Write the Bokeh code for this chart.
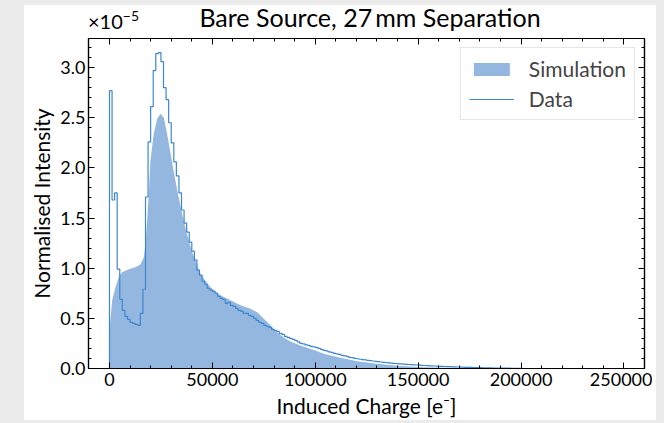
from bokeh.plotting import figure
from bokeh.models import (Range1d, LinearAxis, FixedTicker, PrintfTickFormatter,
                          Legend, LegendItem, Div)
from bokeh.layouts import column
from bokeh.embed import file_html
from bokeh.resources import INLINE
import numpy as np

# ---------------- data (intensity in units of 1e-5) ----------------
BIN_WIDTH = 1250
data_counts = [
    2.77, 1.68, 1.75, 0.99, 0.69, 0.58, 0.52, 0.49, 0.46, 0.45,
    0.44, 0.43, 0.55, 0.79, 1.71, 2.26, 2.61, 2.97, 3.14, 3.15,
    3.06, 2.80, 2.68, 2.45, 2.25, 2.06, 1.92, 1.75, 1.58, 1.45,
    1.36, 1.26, 1.17, 1.08, 0.98, 0.93, 0.87, 0.84, 0.80, 0.78,
    0.77, 0.75, 0.72, 0.70, 0.69, 0.65, 0.66, 0.63, 0.62, 0.60,
    0.58, 0.57, 0.55, 0.55, 0.53, 0.52, 0.50, 0.48, 0.46, 0.45,
    0.43, 0.42, 0.41, 0.39, 0.38, 0.37, 0.35, 0.34, 0.32, 0.31,
    0.30, 0.29, 0.28, 0.265, 0.25, 0.245, 0.235, 0.23, 0.22, 0.215,
    0.21, 0.20, 0.19, 0.18, 0.175, 0.165, 0.16, 0.15, 0.145, 0.14,
    0.13, 0.125, 0.12, 0.11, 0.108, 0.10, 0.097, 0.092, 0.088, 0.085,
    0.082, 0.078, 0.075, 0.072, 0.068, 0.065, 0.062, 0.060, 0.056, 0.054,
    0.052, 0.050, 0.047, 0.046, 0.044, 0.042, 0.040, 0.038, 0.037, 0.035,
    0.033, 0.032, 0.030, 0.029, 0.027, 0.026, 0.025, 0.023, 0.022, 0.021,
    0.020, 0.019, 0.018, 0.017, 0.016, 0.015, 0.014, 0.013, 0.012, 0.011,
    0.011, 0.010, 0.009, 0.009, 0.008, 0.007, 0.007, 0.006, 0.006, 0.005,
    0.005, 0.004, 0.004, 0.003, 0.003, 0.003, 0.002, 0.002, 0.002, 0.001,
]

sim_charge = [0, 300, 1300, 2900, 4500, 6150, 9400, 12600, 15060, 16700,
              17500, 18300, 19100, 19900, 21500, 23200, 24800, 26400, 28000, 29600,
              31250, 32900, 34500, 36100, 37750, 40200, 42600, 44200, 49100, 53900,
              58800, 63650, 68500, 71800, 75000, 78200, 81500, 84700, 87950, 92800,
              99300, 104100, 112200, 120400, 130100, 139800, 152700, 170000, 190000]
sim_intensity = [0, 0.45, 0.68, 0.81, 0.91, 0.96, 0.99, 1.01, 1.04, 1.11,
                 1.24, 1.48, 1.74, 2.07, 2.34, 2.49, 2.54, 2.50, 2.34, 2.15,
                 1.96, 1.78, 1.62, 1.47, 1.33, 1.16, 1.03, 0.94, 0.81, 0.73,
                 0.68, 0.63, 0.595, 0.56, 0.495, 0.43, 0.36, 0.31, 0.27, 0.23,
                 0.185, 0.146, 0.106, 0.073, 0.047, 0.027, 0.013, 0.004, 0.0]

x_ticks = [0, 50000, 100000, 150000, 200000, 250000]
y_ticks = [0.0, 0.5, 1.0, 1.5, 2.0, 2.5, 3.0]

TITLE = "Bare Source, 27&thinsp;mm Separation"
FONT = "Lato"
SIM_COLOR = "#93b7de"
DATA_COLOR = "#3f86d2"

# ---------------- figure ----------------
p = figure(frame_width=556, frame_height=330, output_backend="svg", toolbar_location=None,
           x_range=Range1d(-10200, 260000), y_range=Range1d(0, 3.29),
           min_border_left=64, min_border_right=8, min_border_top=0,
           min_border_bottom=52, x_axis_location=None, y_axis_location=None,
           title=None)
p.grid.visible = False
p.outline_line_color = "black"
p.outline_line_width = 1.2
p.background_fill_color = "white"
p.border_fill_color = "white"

# simulation area
sim_r = p.varea(x=sim_charge, y1=0, y2=sim_intensity, fill_color=SIM_COLOR)

# data histogram as step line
n = len(data_counts)
edges = np.arange(n + 1) * BIN_WIDTH
sx = np.concatenate([[edges[0]], edges[:-1], [edges[-1]]])
sy = np.concatenate([[0.0], data_counts, [0.0]])
data_r = p.step(x=sx, y=sy, mode="after", line_color=DATA_COLOR, line_width=1.2)

# axes
def style_axis(ax, show_labels):
    ax.axis_line_color = "black"
    ax.axis_line_width = 1.2
    ax.major_tick_in = 6
    ax.major_tick_out = 0
    ax.minor_tick_in = 3
    ax.minor_tick_out = 0
    ax.major_tick_line_color = "black"
    ax.minor_tick_line_color = "black"
    ax.major_label_text_font = FONT
    ax.major_label_text_font_size = "18px" if show_labels else "1px"
    ax.major_label_text_color = "black"
    ax.major_label_standoff = 3 if show_labels else 0
    ax.axis_label_text_font = FONT
    ax.axis_label_text_font_size = "21px"
    ax.axis_label_text_font_style = "normal"
    ax.axis_label_text_color = "black"

xt = FixedTicker(ticks=x_ticks, minor_ticks=list(range(0, 260001, 10000)))
yt = FixedTicker(ticks=y_ticks, minor_ticks=[round(v * 0.1, 1) for v in range(0, 33)])

xb = LinearAxis(ticker=xt, axis_label="Induced Charge [e\u207b]",
                formatter=PrintfTickFormatter(format="%d"))
style_axis(xb, True)
xb.major_label_standoff = 4
xb.axis_label_standoff = 4
p.add_layout(xb, "below")

xa = LinearAxis(ticker=xt, major_label_overrides={t: "" for t in x_ticks})
style_axis(xa, False)
p.add_layout(xa, "above")

yl = LinearAxis(ticker=yt, axis_label="Normalised Intensity",
                formatter=PrintfTickFormatter(format="%.1f"))
style_axis(yl, True)
yl.axis_label_standoff = 3
p.add_layout(yl, "left")

yr = LinearAxis(ticker=yt, major_label_overrides={t: "" for t in y_ticks})
style_axis(yr, False)
p.add_layout(yr, "right")

# legend
legend = Legend(items=[LegendItem(label="Simulation", renderers=[sim_r]),
                       LegendItem(label="Data", renderers=[data_r])],
                location="top_right")
legend.label_text_font = FONT
legend.label_text_font_size = "21px"
legend.border_line_color = "#cccccc"
legend.border_line_width = 1
legend.background_fill_color = "white"
legend.background_fill_alpha = 0.9
legend.glyph_width = 45
legend.glyph_height = 16
legend.label_standoff = 15
legend.spacing = 5
legend.padding = 8
legend.margin = 9
p.add_layout(legend)

# title row: scale factor at the left of the frame, title centred over the frame
header = Div(
    text=(
        f'<div style="position:relative;width:632px;height:33px;font-family:{FONT};'
        'color:black;background:white;">'
        '<div style="position:absolute;left:64px;top:6px;line-height:1;white-space:nowrap;">'
        '<span style="font-size:20px;">\u00d710</span>'
        '<span style="font-size:14px;position:relative;top:-8px;">\u22125</span></div>'
        '<div style="position:absolute;left:68px;width:556px;top:0px;text-align:center;'
        f'font-size:25px;line-height:1;white-space:nowrap;">{TITLE}</div>'
        '</div>'
    ),
    width=632, height=33, margin=0,
)

layout = column(header, p, spacing=0, margin=(5, 8, 0, 24),
                styles={"background-color": "white"})

html = file_html(layout, INLINE)
html = html.replace("</head>",
                    "<style>html, body { margin: 0; overflow: hidden; "
                    "background-color: #ebebeb; }</style></head>", 1)
open("out.html", "w").write(html)
